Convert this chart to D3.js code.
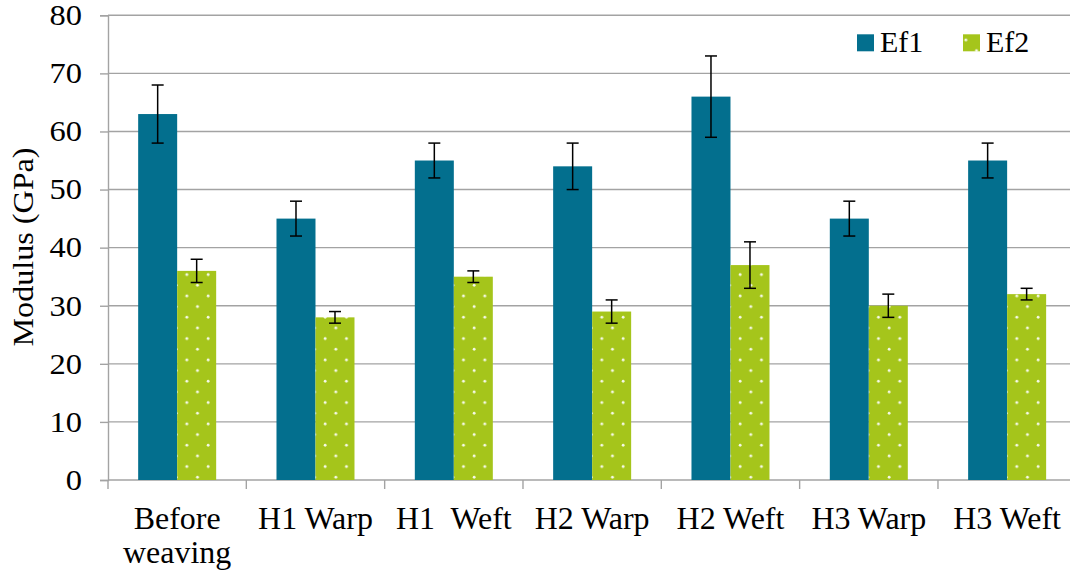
<!DOCTYPE html>
<html>
<head>
<meta charset="utf-8">
<script src="https://cdn.jsdelivr.net/npm/d3@7"></script>
</head>
<body style="margin:0">
<svg id="s" width="1070" height="576"></svg>
<script>
const categories = [["Before","weaving"],["H1 Warp"],["H1  Weft"],["H2 Warp"],["H2 Weft"],["H3 Warp"],["H3 Weft"]];
const seriesNames = ["Ef1","Ef2"];
const ef1 = [63,45,55,54,66,45,55];
const ef1Err = [5,3,3,4,7,3,3];
const ef2 = [36,28,35,29,37,30,32];
const ef2Err = [2,1,1,2,4,2,1];
const yTicks = [0,10,20,30,40,50,60,70,80];

const FONTNAME = "Liberation Serif";
const svg = d3.select("#s");
const pLeft = 108, pRight = 1076.3, pTop = 15.3, pBottom = 480;
const colors = {Ef1:"#036f8e", Ef2:"#a5c51b"};
const GRID = "#a3a3a3";

function fontify(sel, size){
  sel.attr("font-family", FONTNAME).style("font-family", `'${FONTNAME}'`).style("font-size", size+"px").attr("fill","#000");
  return sel;
}
function stretch(sel, f){
  sel.each(function(){
    const L = this.getComputedTextLength();
    d3.select(this).attr("textLength", L*f).attr("lengthAdjust","spacingAndGlyphs");
  });
}

const defs = svg.append("defs");
const pat = defs.append("pattern").attr("id","dots").attr("patternUnits","userSpaceOnUse")
  .attr("width",21.33).attr("height",21.33);
pat.append("rect").attr("width",21.33).attr("height",21.33).attr("fill",colors.Ef2);
[[6,18.7],[16.67,8]].forEach(p=>{
  pat.append("circle").attr("cx",p[0]).attr("cy",p[1]).attr("r",1.4).attr("fill","#ffffff").attr("opacity",0.9);
});

const catKeys = categories.map(c=>c.join(" "));
const x0 = d3.scaleBand().domain(catKeys).range([pLeft,pRight]).padding(0);
const barW = 39;
const x1 = d3.scaleBand().domain(seriesNames).range([0,barW*2]).padding(0);
const groupOff = (x0.bandwidth()-barW*2)/2;
const y = d3.scaleLinear().domain([0,80]).range([pBottom,pTop]);

// gridlines
svg.append("g").selectAll("line").data(yTicks.filter(d=>d>0)).join("line")
  .attr("x1",pLeft).attr("x2",pRight).attr("y1",d=>y(d)).attr("y2",d=>y(d))
  .attr("stroke",GRID).attr("stroke-width",1.4);

// y axis
const yAxis = svg.append("g").attr("transform",`translate(${pLeft},0)`)
  .call(d3.axisLeft(y).tickValues(yTicks).tickSize(8).tickPadding(18));
yAxis.attr("font-family", FONTNAME);
yAxis.select(".domain").attr("stroke",GRID).attr("stroke-width",1.4);
yAxis.selectAll(".tick line").attr("stroke",GRID).attr("stroke-width",1.4);
const yt = fontify(yAxis.selectAll(".tick text"), 29);
stretch(yt, 1.12);

// x axis line and ticks at category boundaries
svg.append("line").attr("x1",pLeft).attr("x2",pRight).attr("y1",pBottom).attr("y2",pBottom)
  .attr("stroke",GRID).attr("stroke-width",1.4);
const bounds = catKeys.map(k=>x0(k)).concat([pRight]);
svg.append("g").selectAll("line").data(bounds).join("line")
  .attr("x1",d=>d).attr("x2",d=>d).attr("y1",pBottom).attr("y2",pBottom+9)
  .attr("stroke",GRID).attr("stroke-width",1.4);

// bars
const data = catKeys.map((k,i)=>({k, vals:[{s:"Ef1",v:ef1[i],e:ef1Err[i]},{s:"Ef2",v:ef2[i],e:ef2Err[i]}]}));
const groups = svg.append("g").selectAll("g").data(data).join("g")
  .attr("transform",d=>`translate(${x0(d.k)+groupOff},0)`);
groups.selectAll("rect").data(d=>d.vals).join("rect")
  .attr("x",d=>x1(d.s)).attr("width",x1.bandwidth())
  .attr("y",d=>y(d.v)).attr("height",d=>y(0)-y(d.v))
  .attr("fill",d=>d.s==="Ef1"?colors.Ef1:"url(#dots)");

// error bars
const eb = groups.selectAll("g.err").data(d=>d.vals).join("g").attr("class","err");
eb.append("line").attr("x1",d=>x1(d.s)+x1.bandwidth()/2).attr("x2",d=>x1(d.s)+x1.bandwidth()/2)
  .attr("y1",d=>y(d.v+d.e)).attr("y2",d=>y(d.v-d.e)).attr("stroke","#000").attr("stroke-width",1.5);
[1,-1].forEach(sg=>{
  eb.append("line").attr("x1",d=>x1(d.s)+x1.bandwidth()/2-6).attr("x2",d=>x1(d.s)+x1.bandwidth()/2+6)
    .attr("y1",d=>y(d.v+sg*d.e)).attr("y2",d=>y(d.v+sg*d.e)).attr("stroke","#000").attr("stroke-width",1.5);
});

// x labels (one text per line)
const lines = [];
categories.forEach((c,i)=>c.forEach((t,j)=>lines.push({t, cx:x0(catKeys[i])+x0.bandwidth()/2, j})));
const xl = svg.append("g").selectAll("text").data(lines).join("text")
  .attr("x",d=>d.cx).attr("y",d=>528.5+d.j*34.5)
  .attr("text-anchor","middle").attr("xml:space","preserve").style("white-space","pre")
  .text(d=>d.t);
fontify(xl, 31);
stretch(xl, 1.03);

// y label
const ylab = svg.append("text").attr("transform","translate(33,247) rotate(-90)")
  .attr("text-anchor","middle").text("Modulus (GPa)");
fontify(ylab, 30);
stretch(ylab, 1.07);

// legend
const leg = [{s:"Ef1",x:857},{s:"Ef2",x:963}];
leg.forEach(l=>{
  svg.append("rect").attr("x",l.x).attr("y",34.3).attr("width",17).attr("height",17)
    .attr("fill",l.s==="Ef1"?colors.Ef1:"url(#dots)");
  fontify(svg.append("text").attr("x",l.x+23).attr("y",51.7).text(l.s), 30);
});
</script>
</body>
</html>
